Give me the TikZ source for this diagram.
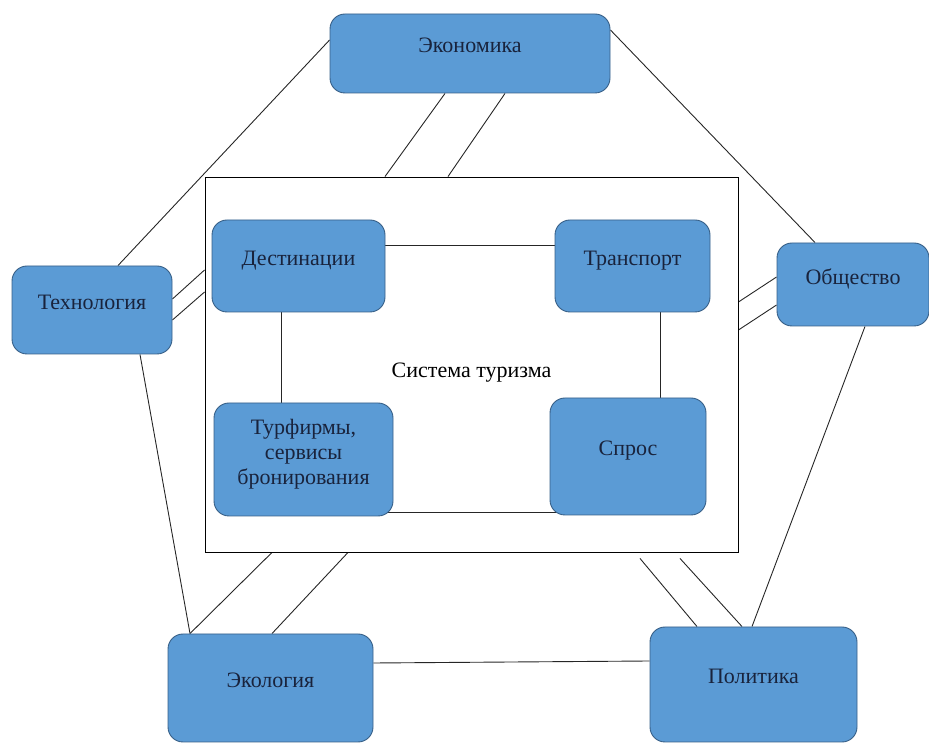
\documentclass[tikz,border=0pt]{standalone}
\usepackage{fontspec}
\setmainfont{Liberation Serif}
\usetikzlibrary{backgrounds}
\definecolor{blockfill}{RGB}{91,155,213}
\definecolor{blockline}{RGB}{55,95,135}
\definecolor{blocktext}{RGB}{25,35,60}
\tikzset{
    block/.style={draw=blockline,fill=blockfill,rounded corners=15pt,
        line width=0.9pt,text=blocktext,align=center,text depth=16pt,
        font=\fontsize{22}{25}\selectfont},
    link/.style={line width=0.9pt,black!85}
}
\begin{document}
\begin{tikzpicture}[x=1pt,y=1pt]
        \useasboundingbox (0,0) rectangle (929,744);
        %% Tourism system frame
        \node[draw,line width=0.9pt,minimum width=533pt,minimum height=375pt,
            text height=30pt,font=\fontsize{22}{25}\selectfont] (sys) at (471.5,379.5) {Система туризма};
        %% Inner blocks
        \node[block,minimum width=173pt,minimum height=92pt] (dest) at (298.5,478) {Дестинации};
        \node[block,minimum width=155pt,minimum height=92pt] (trans) at (632.5,478) {Транспорт};
        \node[block,minimum width=179pt,minimum height=113pt] (firm) at (303.5,284.5)
            {Турфирмы,\\сервисы\\бронирования};
        \node[block,minimum width=156pt,minimum height=117pt] (dem) at (628,287.5) {Спрос};
        %% Outer blocks
        \node[block,minimum width=280pt,minimum height=79pt] (econ) at (470,690.5) {Экономика};
        \node[block,minimum width=160pt,minimum height=88pt] (tech) at (92,434) {Технология};
        \node[block,minimum width=152pt,minimum height=83pt] (soc) at (853,459.5) {Общество};
        \node[block,minimum width=205pt,minimum height=108pt] (eco) at (270.5,56) {Экология};
        \node[block,minimum width=207pt,minimum height=115pt] (pol) at (753.5,59.5) {Политика};
        \begin{scope}[on background layer]
            %% Inner links
            \draw[link] ([yshift=21pt]dest.east) -- ([yshift=21pt]trans.west);
            \draw[link] ([xshift=-17.5pt]dest.south) -- ([xshift=-22.5pt]firm.north);
            \draw[link] ([xshift=27.5pt]trans.south) -- ([xshift=32pt]dem.north);
            \draw[link] ([xshift=-8pt,yshift=-52.5pt]firm.east) -- ([xshift=8pt,yshift=-55.5pt]dem.west);
            %% Outer ring
            \draw[link] ([yshift=13.5pt]econ.west) -- ([xshift=26pt]tech.north);
            \draw[link] ([yshift=23.5pt]econ.east) -- ([xshift=-38pt]soc.north);
            \draw[link] ([xshift=48pt]tech.south) -- ([xshift=-80.5pt]eco.north);
            \draw[link] ([xshift=12pt]soc.south) -- ([xshift=-1.5pt]pol.north);
            \draw[link] ([yshift=25pt]eco.east) -- ([yshift=23.5pt]pol.west);
            %% Double links to the system
            \draw[link] ([xshift=-25pt]econ.south) -- ([xshift=-86.5pt]sys.north);
            \draw[link] ([xshift=35pt]econ.south) -- ([xshift=-23.5pt]sys.north);
            \draw[link] ([yshift=11pt]tech.east) -- ([yshift=94.5pt]sys.west);
            \draw[link] ([yshift=-10pt]tech.east) -- ([yshift=72.5pt]sys.west);
            \draw[link] ([yshift=7.5pt]soc.west) -- ([yshift=62.5pt]sys.east);
            \draw[link] ([yshift=-20.5pt]soc.west) -- ([yshift=34.5pt]sys.east);
            \draw[link] ([xshift=-199.5pt]sys.south) -- ([xshift=-80.5pt]eco.north);
            \draw[link] ([xshift=-123.5pt]sys.south) -- ([xshift=1.5pt]eco.north);
            \draw[link] ([xshift=168.5pt,yshift=-6pt]sys.south) -- ([xshift=-56.5pt]pol.north);
            \draw[link] ([xshift=208.5pt,yshift=-6pt]sys.south) -- ([xshift=-11.5pt]pol.north);
        \end{scope}
    \end{tikzpicture}
\end{document}
